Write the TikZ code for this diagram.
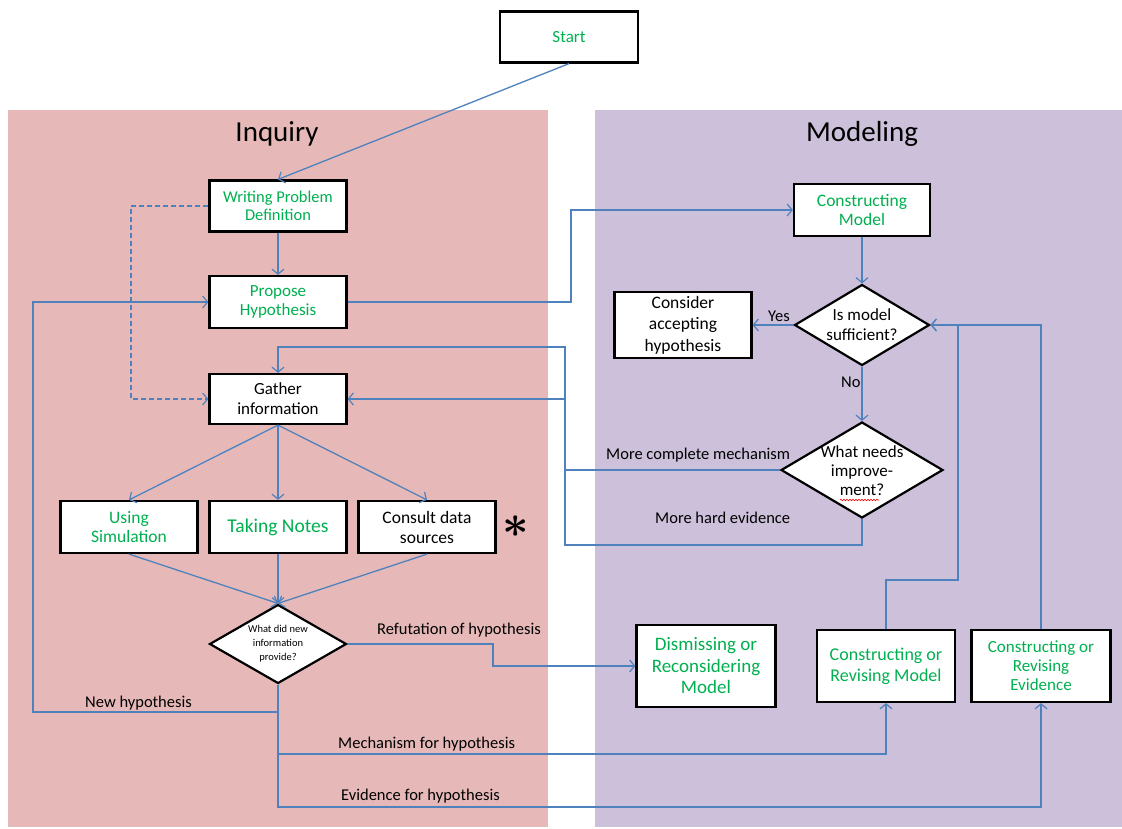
\documentclass[tikz,border=0pt]{standalone}
\usepackage{fontspec}
\setmainfont{Carlito}
\usetikzlibrary{arrows.meta,shapes.geometric,decorations.pathmorphing}
\definecolor{inqbg}{HTML}{E6B9B8}
\definecolor{modbg}{HTML}{CCC0DA}
\definecolor{flow}{HTML}{4F81BD}
\definecolor{stepgreen}{HTML}{00B050}
\newcommand{\fs}[2]{\fontsize{#1}{#2}\selectfont}

\begin{document}
\begin{tikzpicture}[x=1pt,y=-1pt,
  box/.style={draw=black,line width=2.2pt,fill=white,inner sep=0pt,align=center,
              minimum width=137pt,minimum height=52pt},
  gtxt/.style={text=stepgreen},
  dia/.style={diamond,draw=black,line width=2.2pt,fill=white,inner sep=0pt},
  diatext/.style={align=center,inner sep=0pt},
  arr/.style={draw=flow,line width=1.3pt,-{Straight Barb[length=5pt,width=12pt,line width=1.2pt]}},
  dashline/.style={draw=flow,line width=1.3pt,dash pattern=on 5pt off 3pt,
              -{Straight Barb[length=5pt,width=12pt,line width=1.2pt]}},
  lbl/.style={anchor=base west,inner sep=0pt,font=\fs{16.5}{19}},
  title/.style={font=\fs{29}{34}}
]
% page and panels
\useasboundingbox (0,0) rectangle (1122,828);
\fill[white] (0,0) rectangle (1122,828);
\fill[inqbg] (8,110) rectangle (548,827);
\fill[modbg] (595,110) rectangle (1122,827);
\node[title] (tinq) at (277,134) {Inquiry};
\node[title] (tmod) at (862,134) {Modeling};

% inquiry steps
\node[box,gtxt,minimum width=138pt,minimum height=51pt,font=\fs{17}{19}] (start) at (569,37) {Start};
\node[box,gtxt,minimum height=51pt,font=\fs{16.5}{18}] (wpd) at (278,206) {Writing Problem\\Definition};
\node[box,gtxt,font=\fs{17}{19}] (propose) at (278,302) {Propose\\Hypothesis};
\node[box,minimum height=50pt,font=\fs{17}{20}] (gather) at (278,399) {Gather\\information};
\node[box,gtxt,font=\fs{17.5}{19}] (using) at (129,527) {Using\\Simulation};
\node[box,gtxt,font=\fs{19.5}{20}] (taking) at (278,527) {Taking Notes};
\node[box,font=\fs{17.5}{20}] (consult) at (427,527) {Consult data\\sources};
\node[inner sep=0pt] (star) at (516,527) {\scalebox{4.6}{\boldmath$\ast$}};
\node[dia,minimum width=137pt,minimum height=79pt] (wdn) at (278,644) {};
\node[diatext,font=\fs{10.5}{14}] (wdntext) at (wdn) {What did new\\information\\provide?};

% modeling steps
\node[box,gtxt,minimum width=136pt,font=\fs{17.5}{19}] (cmodel) at (862,210) {Constructing\\Model};
\node[dia,minimum width=135pt,minimum height=81pt] (ims) at (862,325) {};
\node[diatext,font=\fs{17}{20}] (imstext) at (ims) {Is model\\sufficient?};
\node[box,minimum height=66pt,font=\fs{17.5}{21.5}] (accept) at (683,325) {Consider\\accepting\\hypothesis};
\node[dia,minimum width=162pt,minimum height=96pt] (wni) at (862,470) {};
\node[diatext,font=\fs{17}{19}] (wnitext) at (862,471) {What needs\\improve-\\ment?};
\draw[red,line width=0.6pt,decorate,decoration={snake,amplitude=0.8pt,segment length=3pt}]
  (840,500) -- (879,500);
\node[box,gtxt,minimum width=139pt,minimum height=82pt,font=\fs{19}{21.5}] (dismiss) at (706,666) {Dismissing or\\Reconsidering\\Model};
\node[box,gtxt,minimum width=138pt,minimum height=72pt,font=\fs{18}{21}] (crm) at (886,666) {Constructing or\\Revising Model};
\node[box,gtxt,minimum width=139pt,minimum height=72pt,font=\fs{17}{19}] (crev) at (1041,666) {Constructing or\\Revising\\Evidence};

% bend points
\coordinate (pbend) at (571,302);
\coordinate (dbend) at (131,206);
\coordinate (rbend) at (493,644);
\coordinate (nhbend) at (278,712);
\coordinate (nhleft) at (33,712);
\coordinate (mbend) at (886,754);
\coordinate (ebend) at (1041,807);
\coordinate (mcbend) at (565,470);
\coordinate (hebend) at (862,545);
\coordinate (hecorner) at (565,545);
\coordinate (hetop) at (278,347);
\coordinate (crmbend) at (958,580);

% inquiry connectors
\draw[arr] (start.south) -- (wpd.north);
\draw[arr] (wpd.south) -- (propose.north);
\draw[dashline] (wpd.west) -- (dbend) |- (gather.west);
\draw[arr] (gather.south) -- (using.north);
\draw[arr] (gather.south) -- (taking.north);
\draw[arr] (gather.south) -- (consult.north);
\draw[arr] (using.south) -- (wdn.north);
\draw[arr] (taking.south) -- (wdn.north);
\draw[arr] (consult.south) -- (wdn.north);
\draw[arr] (propose.east) -- (pbend) |- (cmodel.west);
\draw[arr] (wdn.east) -- (rbend) |- (dismiss.west);
\draw[arr] (wdn.south) -- (nhbend) -- (nhleft) |- (propose.west);
\draw[arr] (wdn.south) |- (mbend) -- (crm.south);
\draw[arr] (wdn.south) |- (ebend) -- (crev.south);

% modeling connectors
\draw[arr] (cmodel.south) -- (ims.north);
\draw[arr] (ims.west) -- (accept.east);
\draw[arr] (ims.south) -- (wni.north);
\draw[arr] (wni.west) -- (mcbend) |- (gather.east);
\draw[arr] (wni.south) -- (hebend) -- (hecorner) |- (hetop) -- (gather.north);
\draw[arr] (crm.north) |- (crmbend) |- (ims.east);
\draw[arr] (crev.north) |- (ims.east);

% connector labels
\node[lbl] (lref) at (377,634) {Refutation of hypothesis};
\node[lbl] (lnew) at (85,707) {New hypothesis};
\node[lbl] (lmech) at (338,748) {Mechanism for hypothesis};
\node[lbl] (levid) at (341,800) {Evidence for hypothesis};
\node[lbl] (lmore) at (606,459) {More complete mechanism};
\node[lbl] (lhard) at (655,523) {More hard evidence};
\node[lbl] (lyes) at (768,321) {Yes};
\node[lbl] (lno) at (841,387) {No};
\end{tikzpicture}
\end{document}
